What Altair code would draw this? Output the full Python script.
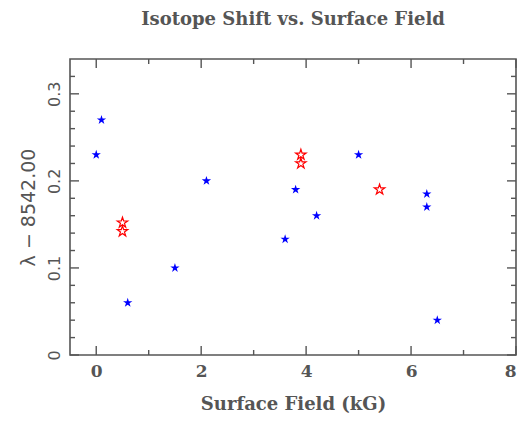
import altair as alt
import pandas as pd

# Data
blue_x = [0.0, 0.1, 0.6, 1.5, 2.1, 3.6, 3.8, 4.2, 5.0, 6.3, 6.3, 6.5]
blue_y = [0.23, 0.27, 0.06, 0.10, 0.20, 0.133, 0.19, 0.16, 0.23, 0.185, 0.17, 0.04]
red_x = [0.5, 0.5, 3.9, 3.9, 5.4]
red_y = [0.152, 0.142, 0.23, 0.22, 0.19]

x_major = [0, 2, 4, 6, 8]
x_minor = [1, 3, 5, 7]
y_major = [0, 0.1, 0.2, 0.3]
y_minor = [0.02, 0.04, 0.06, 0.08, 0.12, 0.14, 0.16, 0.18, 0.22, 0.24, 0.26, 0.28, 0.32]

W, H = 446, 296
MAJ, MIN = 9, 5

blue = pd.DataFrame({"x": blue_x, "y": blue_y})
red = pd.DataFrame({"x": red_x, "y": red_y})

FRAME = "#555555"
SERIF = "DejaVu Serif"
SANS = "DejaVu Sans"

STAR = ("M0,-1L0.2245,-0.309L0.9511,-0.309L0.3633,0.118L0.5878,0.809L0,0.382"
        "L-0.5878,0.809L-0.3633,0.118L-0.9511,-0.309L-0.2245,-0.309Z")

xs = alt.Scale(domain=[-0.5, 8], nice=False, zero=False)
ys = alt.Scale(domain=[0, 0.34], nice=False, zero=False)

main_x = alt.Axis(values=x_major, ticks=False, tickSize=0, domain=False,
                  grid=False, title="Surface Field (kG)", labelFont=SERIF, labelFontSize=17,
                  labelFontWeight="bold", labelColor=FRAME, labelPadding=8,
                  titleFont=SERIF, titleFontSize=18, titleFontWeight="bold",
                  titleColor=FRAME, titlePadding=16, format="~g")
main_y = alt.Axis(values=y_major, ticks=False, tickSize=0, domain=False,
                  grid=False, title="λ − 8542.00", labelFont=SANS, labelFontSize=16,
                  labelColor=FRAME, labelAngle=270, labelPadding=8, labelAlign="center",
                  labelBaseline="bottom",
                  titleFont=SANS, titleFontSize=19, titleFontWeight="normal",
                  titleColor=FRAME, titlePadding=8, format="~g")

l_blue = alt.Chart(blue).mark_point(shape=STAR, filled=True, color="#0000ff", size=96, opacity=1).encode(
    x=alt.X("x:Q", scale=xs, axis=main_x),
    y=alt.Y("y:Q", scale=ys, axis=main_y),
)
l_red = alt.Chart(red).mark_point(shape=STAR, filled=False, color="#ff0000", size=120,
                                  strokeWidth=1.2, opacity=1).encode(
    x=alt.X("x:Q", scale=xs),
    y=alt.Y("y:Q", scale=ys),
)


def xticks(values, y0, y1):
    return alt.Chart(pd.DataFrame({"x": values})).mark_rule(color=FRAME, strokeWidth=1.4).encode(
        x=alt.X("x:Q", scale=xs), y=alt.value(y0), y2=alt.value(y1))


def yticks(values, x0, x1):
    return alt.Chart(pd.DataFrame({"y": values})).mark_rule(color=FRAME, strokeWidth=1.4).encode(
        y=alt.Y("y:Q", scale=ys), x=alt.value(x0), x2=alt.value(x1))


ticks = [
    xticks(x_major, H - MAJ, H), xticks(x_major, 0, MAJ),
    xticks(x_minor, H - MIN, H), xticks(x_minor, 0, MIN),
    yticks(y_major, 0, MAJ), yticks(y_major, W - MAJ, W),
    yticks(y_minor, 0, MIN), yticks(y_minor, W - MIN, W),
]

chart = alt.layer(l_blue, l_red, *ticks).properties(
    width=W,
    height=H,
    autosize=alt.AutoSizeParams(type="none"),
    padding={"left": 62, "top": 51, "right": 1, "bottom": 60},
    title=alt.TitleParams("Isotope Shift vs. Surface Field", anchor="middle", font=SERIF,
                          fontSize=18, fontWeight="bold", color=FRAME, offset=29),
).configure_view(stroke=FRAME, strokeWidth=1.6)

chart.save("out.html", embed_options={"renderer": "svg", "actions": False})
